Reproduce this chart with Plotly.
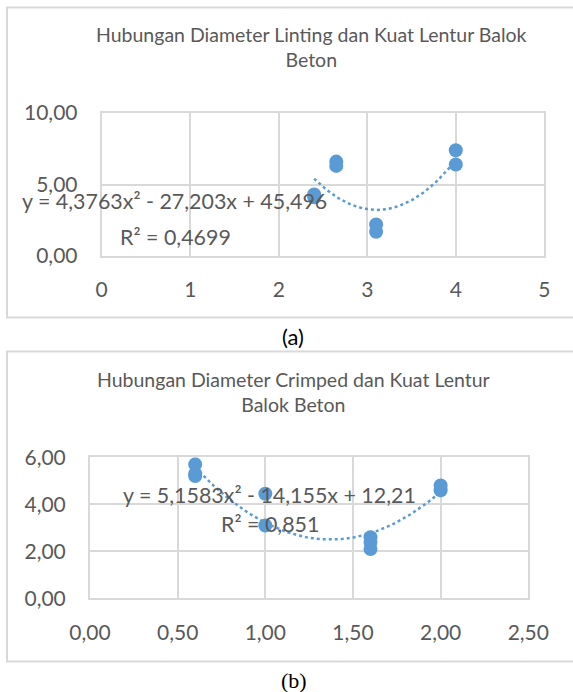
import numpy as np
import plotly.graph_objects as go

# ---------------- data ----------------
a_title = "Hubungan Diameter Linting dan Kuat Lentur Balok<br>Beton"
a_x = [2.4, 2.4, 2.65, 2.65, 3.1, 3.1, 4.0, 4.0]
a_y = [4.3, 4.1, 6.6, 6.3, 2.2, 1.7, 7.4, 6.4]
a_coef = [4.3763, -27.203, 45.496]
a_trend_range = [2.4, 4.0]
a_eq = "y = 4,3763x² - 27,203x + 45,496"
a_r2 = "R² = 0,4699"
a_caption = "(a)"

b_title = "Hubungan Diameter Crimped dan Kuat Lentur<br>Balok Beton"
b_x = [0.6, 0.6, 0.6, 1.0, 1.0, 1.6, 1.6, 1.6, 2.0, 2.0]
b_y = [5.7, 5.3, 5.2, 4.45, 3.1, 2.6, 2.4, 2.1, 4.8, 4.6]
b_coef = [5.1583, -14.155, 12.21]
b_trend_range = [0.6, 2.0]
b_eq = "y = 5,1583x² - 14,155x + 12,21"
b_r2 = "R² = 0,851"
b_caption = "(b)"

# ---------------- style ----------------
W, H = 573, 692
BLUE = "#5B9BD5"
GRID = "#D9D9D9"
TXT = "#595959"
FONT = "Lato"


def px(x):
    return x / W


def py(y):
    return 1 - y / H


fig = go.Figure()

# trend lines (polynomial order 2 as given by the chart's fitted equation)
ta = np.linspace(a_trend_range[0], a_trend_range[1], 80)
tb = np.linspace(b_trend_range[0], b_trend_range[1], 80)
fig.add_trace(go.Scatter(x=ta, y=np.polyval(a_coef, ta), mode="lines",
                         line=dict(color=BLUE, width=2.5, dash="dot"),
                         xaxis="x", yaxis="y", hoverinfo="skip"))
fig.add_trace(go.Scatter(x=a_x, y=a_y, mode="markers",
                         marker=dict(color=BLUE, size=14),
                         xaxis="x", yaxis="y"))
fig.add_trace(go.Scatter(x=tb, y=np.polyval(b_coef, tb), mode="lines",
                         line=dict(color=BLUE, width=2.5, dash="dot"),
                         xaxis="x2", yaxis="y2", hoverinfo="skip"))
fig.add_trace(go.Scatter(x=b_x, y=b_y, mode="markers",
                         marker=dict(color=BLUE, size=14),
                         xaxis="x2", yaxis="y2"))

axis_common = dict(showgrid=True, gridcolor=GRID, gridwidth=2,
                   showline=True, linecolor=GRID, linewidth=2, mirror=True,
                   zeroline=False, ticks="", fixedrange=True, automargin=False,
                   tickfont=dict(family=FONT, size=21, color=TXT))

fig.update_layout(
    width=W, height=H, margin=dict(l=0, r=0, t=0, b=0, autoexpand=False),
    paper_bgcolor="white", plot_bgcolor="white",
    showlegend=False, separators=",.",
    xaxis=dict(domain=[px(101.7), px(544.3)], range=[0, 5], dtick=1,
               tickformat="d", anchor="y", ticklabelstandoff=14, **axis_common),
    yaxis=dict(domain=[py(256), py(113)], range=[0, 10], dtick=5,
               tickformat=".2f", anchor="x", ticklabelstandoff=18, **axis_common),
    xaxis2=dict(domain=[px(90), px(528.3)], range=[0, 2.5], dtick=0.5,
                tickformat=".2f", anchor="y2", ticklabelstandoff=14, **axis_common),
    yaxis2=dict(domain=[py(598.3), py(457.3)], range=[0, 6], dtick=2,
                tickformat=".2f", anchor="x2", ticklabelstandoff=18, **axis_common),
)

shapes = [
    dict(type="rect", xref="paper", yref="paper",
         x0=px(7), x1=px(580), y0=py(317.5), y1=py(7.5),
         line=dict(color=GRID, width=2), layer="below"),
    dict(type="rect", xref="paper", yref="paper",
         x0=px(7), x1=px(580), y0=py(661.5), y1=py(351.5),
         line=dict(color=GRID, width=2), layer="below"),
]
fig.update_layout(shapes=shapes)


def ann(text, x, y, size, color=TXT, family=FONT):
    fig.add_annotation(text=text, xref="paper", yref="paper", x=px(x), y=py(y),
                       xanchor="center", yanchor="middle", showarrow=False,
                       font=dict(family=family, size=size, color=color))


ann(a_title, 311, 47.5, 19.5)
ann(b_title, 293, 391.5, 19.5)
ann(a_eq, 174, 201, 21.4)
ann(a_r2, 175, 237, 21.4)
ann(b_eq, 269, 495, 21.4)
ann(b_r2, 270, 524, 21.4)
ann(a_caption, 293, 336, 22, color="black")
ann(b_caption, 294, 680, 22, color="black", family="Liberation Serif")

fig.write_html("out.html", config={"displayModeBar": False},
               post_script="document.body.style.margin='0';")
